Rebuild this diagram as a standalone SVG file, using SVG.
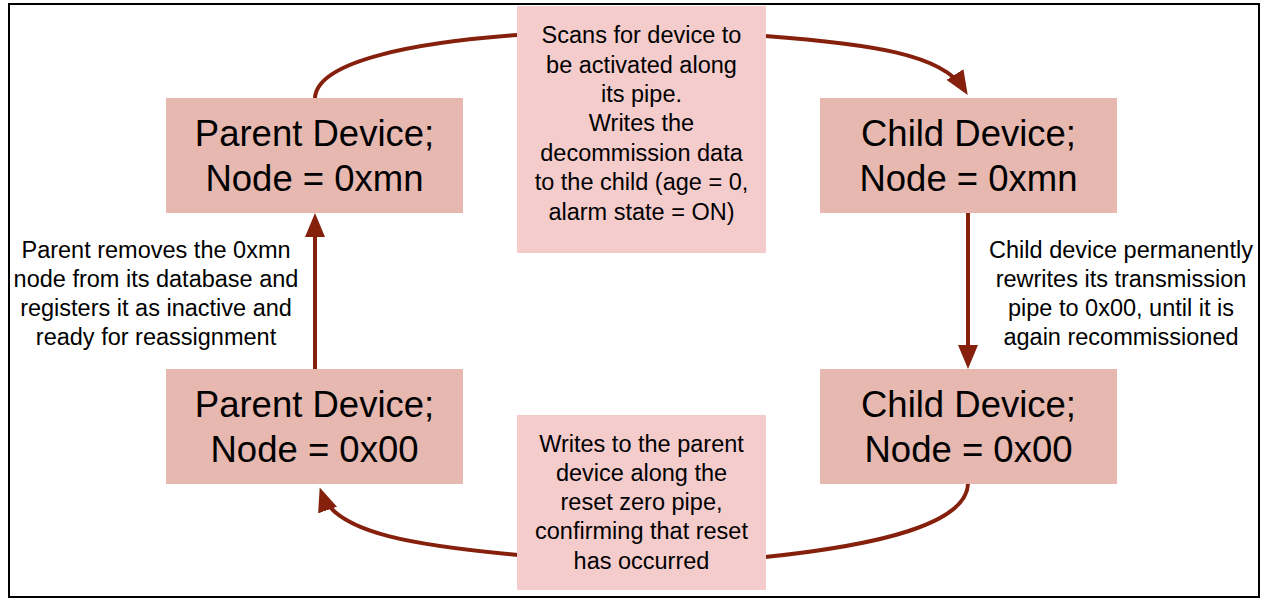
<svg xmlns="http://www.w3.org/2000/svg" width="1265" height="600" viewBox="0 0 1265 600">
<defs>
<style>
.frame{fill:#ffffff;stroke:#000000;stroke-width:2}
.node{fill:#e6b8af;stroke:none}
.note{fill:#f4cccc;stroke:none}
.conn{fill:none;stroke:#85200c;stroke-width:4}
.big{font-family:"Liberation Sans",Arial,sans-serif;font-size:36.5px;fill:#000000;text-anchor:middle}
.small{font-family:"Liberation Sans",Arial,sans-serif;font-size:23.5px;fill:#000000;text-anchor:middle}
</style>
<marker id="arr" viewBox="0 0 24 20" markerWidth="24" markerHeight="20" refX="17" refY="10" orient="auto" markerUnits="userSpaceOnUse">
<path d="M0,0 L24,10 L0,20 z" fill="#85200c"/>
</marker>
</defs>
<rect class="frame" x="9" y="4" width="1250" height="593"/>
<g id="connectors">
<path class="conn" d="M315 98 C317 60 420 42 518 35"/>
<path class="conn" d="M765 36 C870 44 942 54 964 89" marker-end="url(#arr)"/>
<path class="conn" d="M968 213 L968 362" marker-end="url(#arr)"/>
<path class="conn" d="M968 484 C966 524 880 545 765 557"/>
<path class="conn" d="M518 555 C420 546 336 534 322 494" marker-end="url(#arr)"/>
<path class="conn" d="M315 369 L315 220" marker-end="url(#arr)"/>
</g>
<g id="parent-mn">
<rect class="node" x="166" y="98" width="297" height="115"/>
<text class="big" x="314.5" y="146">Parent Device;</text>
<text class="big" x="314.5" y="191">Node = 0xmn</text>
</g>
<g id="child-mn">
<rect class="node" x="820" y="98" width="297" height="115"/>
<text class="big" x="968.5" y="146">Child Device;</text>
<text class="big" x="968.5" y="191">Node = 0xmn</text>
</g>
<g id="child-00">
<rect class="node" x="820" y="369" width="297" height="115"/>
<text class="big" x="968.5" y="417">Child Device;</text>
<text class="big" x="968.5" y="462">Node = 0x00</text>
</g>
<g id="parent-00">
<rect class="node" x="166" y="369" width="297" height="115"/>
<text class="big" x="314.5" y="417">Parent Device;</text>
<text class="big" x="314.5" y="462">Node = 0x00</text>
</g>
<g id="scan-note">
<rect class="note" x="517" y="6" width="249" height="247"/>
<text class="small" x="641.5" y="43">Scans for device to</text>
<text class="small" x="641.5" y="72.5">be activated along</text>
<text class="small" x="641.5" y="102">its pipe.</text>
<text class="small" x="641.5" y="131">Writes the</text>
<text class="small" x="641.5" y="160.5">decommission data</text>
<text class="small" x="641.5" y="190">to the child (age = 0,</text>
<text class="small" x="641.5" y="219.5">alarm state = ON)</text>
</g>
<g id="reset-note">
<rect class="note" x="517" y="415" width="249" height="175"/>
<text class="small" x="641.5" y="451.5">Writes to the parent</text>
<text class="small" x="641.5" y="480.5">device along the</text>
<text class="small" x="641.5" y="510">reset zero pipe,</text>
<text class="small" x="641.5" y="539">confirming that reset</text>
<text class="small" x="641.5" y="568.5">has occurred</text>
</g>
<g id="left-label">
<text class="small" x="156" y="257.5">Parent removes the 0xmn</text>
<text class="small" x="156" y="286.5">node from its database and</text>
<text class="small" x="156" y="315.5">registers it as inactive and</text>
<text class="small" x="156" y="344.5">ready for reassignment</text>
</g>
<g id="right-label">
<text class="small" x="1121" y="257.5">Child device permanently</text>
<text class="small" x="1121" y="286.5">rewrites its transmission</text>
<text class="small" x="1121" y="315.5">pipe to 0x00, until it is</text>
<text class="small" x="1121" y="344.5">again recommissioned</text>
</g>
</svg>
